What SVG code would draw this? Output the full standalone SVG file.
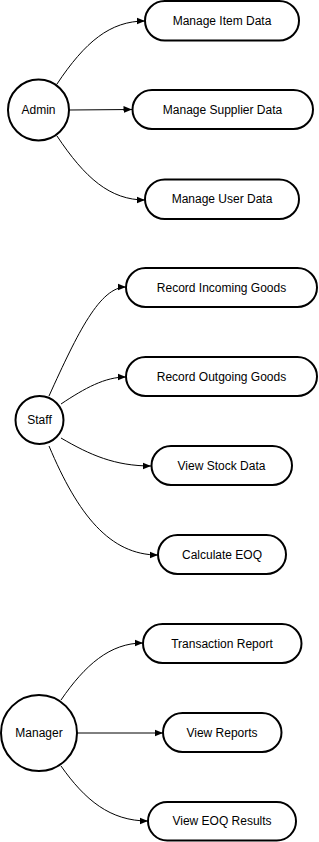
<svg xmlns="http://www.w3.org/2000/svg" width="319" height="842" viewBox="0 0 319 842">
<style>
.actor{fill:#fff;stroke:#000;stroke-width:2}
.uc{fill:#fff;stroke:#000;stroke-width:2}
.lbl{font-family:"Liberation Sans",Arial,sans-serif;font-size:12px;fill:#000;text-anchor:middle;dominant-baseline:central}
.edge{fill:none;stroke:#000;stroke-width:1;marker-end:url(#arr)}
</style>
<defs>
<marker id="arr" markerUnits="userSpaceOnUse" markerWidth="9" markerHeight="8" refX="8.5" refY="4" orient="auto">
<path d="M0,0.5 L8.5,4 L0,7.5 z" fill="#000"/>
</marker>
</defs>
<rect width="319" height="842" fill="#fff"/>
<g id="connectors">
<path class="edge" d="M57,84 C85,42 110,21 145,21"/>
<path class="edge" d="M69,110 L132,109.5"/>
<path class="edge" d="M57,136 C85,178 110,200 145,200"/>
<path class="edge" d="M49,396 C78,332 100,287 126,287"/>
<path class="edge" d="M61,404 C85,388 105,377 126,377"/>
<path class="edge" d="M61,438 C90,455 115,466 151,466"/>
<path class="edge" d="M49,446 C78,515 110,555 158,555"/>
<path class="edge" d="M61,700 C85,665 110,643 143,643"/>
<path class="edge" d="M77,733 L163,733"/>
<path class="edge" d="M61,766 C85,800 110,821 148,821"/>
</g>
<g id="admin"><circle class="actor" cx="38.5" cy="110" r="30.5"/><text class="lbl" x="38.5" y="110">Admin</text></g>
<g id="manage-item"><rect class="uc" x="145" y="1" width="154" height="39.5" rx="19.75"/><text class="lbl" x="222" y="20.5">Manage Item Data</text></g>
<g id="manage-supplier"><rect class="uc" x="132.5" y="90" width="180.5" height="39" rx="19.5"/><text class="lbl" x="222.5" y="109.5">Manage Supplier Data</text></g>
<g id="manage-user"><rect class="uc" x="145" y="179.5" width="154" height="39.5" rx="19.75"/><text class="lbl" x="222" y="199">Manage User Data</text></g>
<g id="staff"><circle class="actor" cx="39.5" cy="420" r="24"/><text class="lbl" x="39.5" y="420">Staff</text></g>
<g id="record-incoming"><rect class="uc" x="126" y="268" width="191" height="39" rx="19.5"/><text class="lbl" x="221.5" y="287.5">Record Incoming Goods</text></g>
<g id="record-outgoing"><rect class="uc" x="126" y="357" width="191" height="39" rx="19.5"/><text class="lbl" x="221.5" y="376.5">Record Outgoing Goods</text></g>
<g id="view-stock"><rect class="uc" x="151.5" y="446" width="140.5" height="39" rx="19.5"/><text class="lbl" x="221.5" y="465.5">View Stock Data</text></g>
<g id="calc-eoq"><rect class="uc" x="158" y="535" width="128" height="39" rx="19.5"/><text class="lbl" x="222" y="554.5">Calculate EOQ</text></g>
<g id="manager"><circle class="actor" cx="39" cy="733" r="38"/><text class="lbl" x="39" y="733">Manager</text></g>
<g id="transaction-report"><rect class="uc" x="143" y="624" width="158.5" height="39" rx="19.5"/><text class="lbl" x="222" y="643.5">Transaction Report</text></g>
<g id="view-reports"><rect class="uc" x="163" y="713" width="118.5" height="39" rx="19.5"/><text class="lbl" x="222" y="732.5">View Reports</text></g>
<g id="view-eoq"><rect class="uc" x="148" y="802" width="148" height="38.5" rx="19.25"/><text class="lbl" x="222" y="821">View EOQ Results</text></g>
</svg>
